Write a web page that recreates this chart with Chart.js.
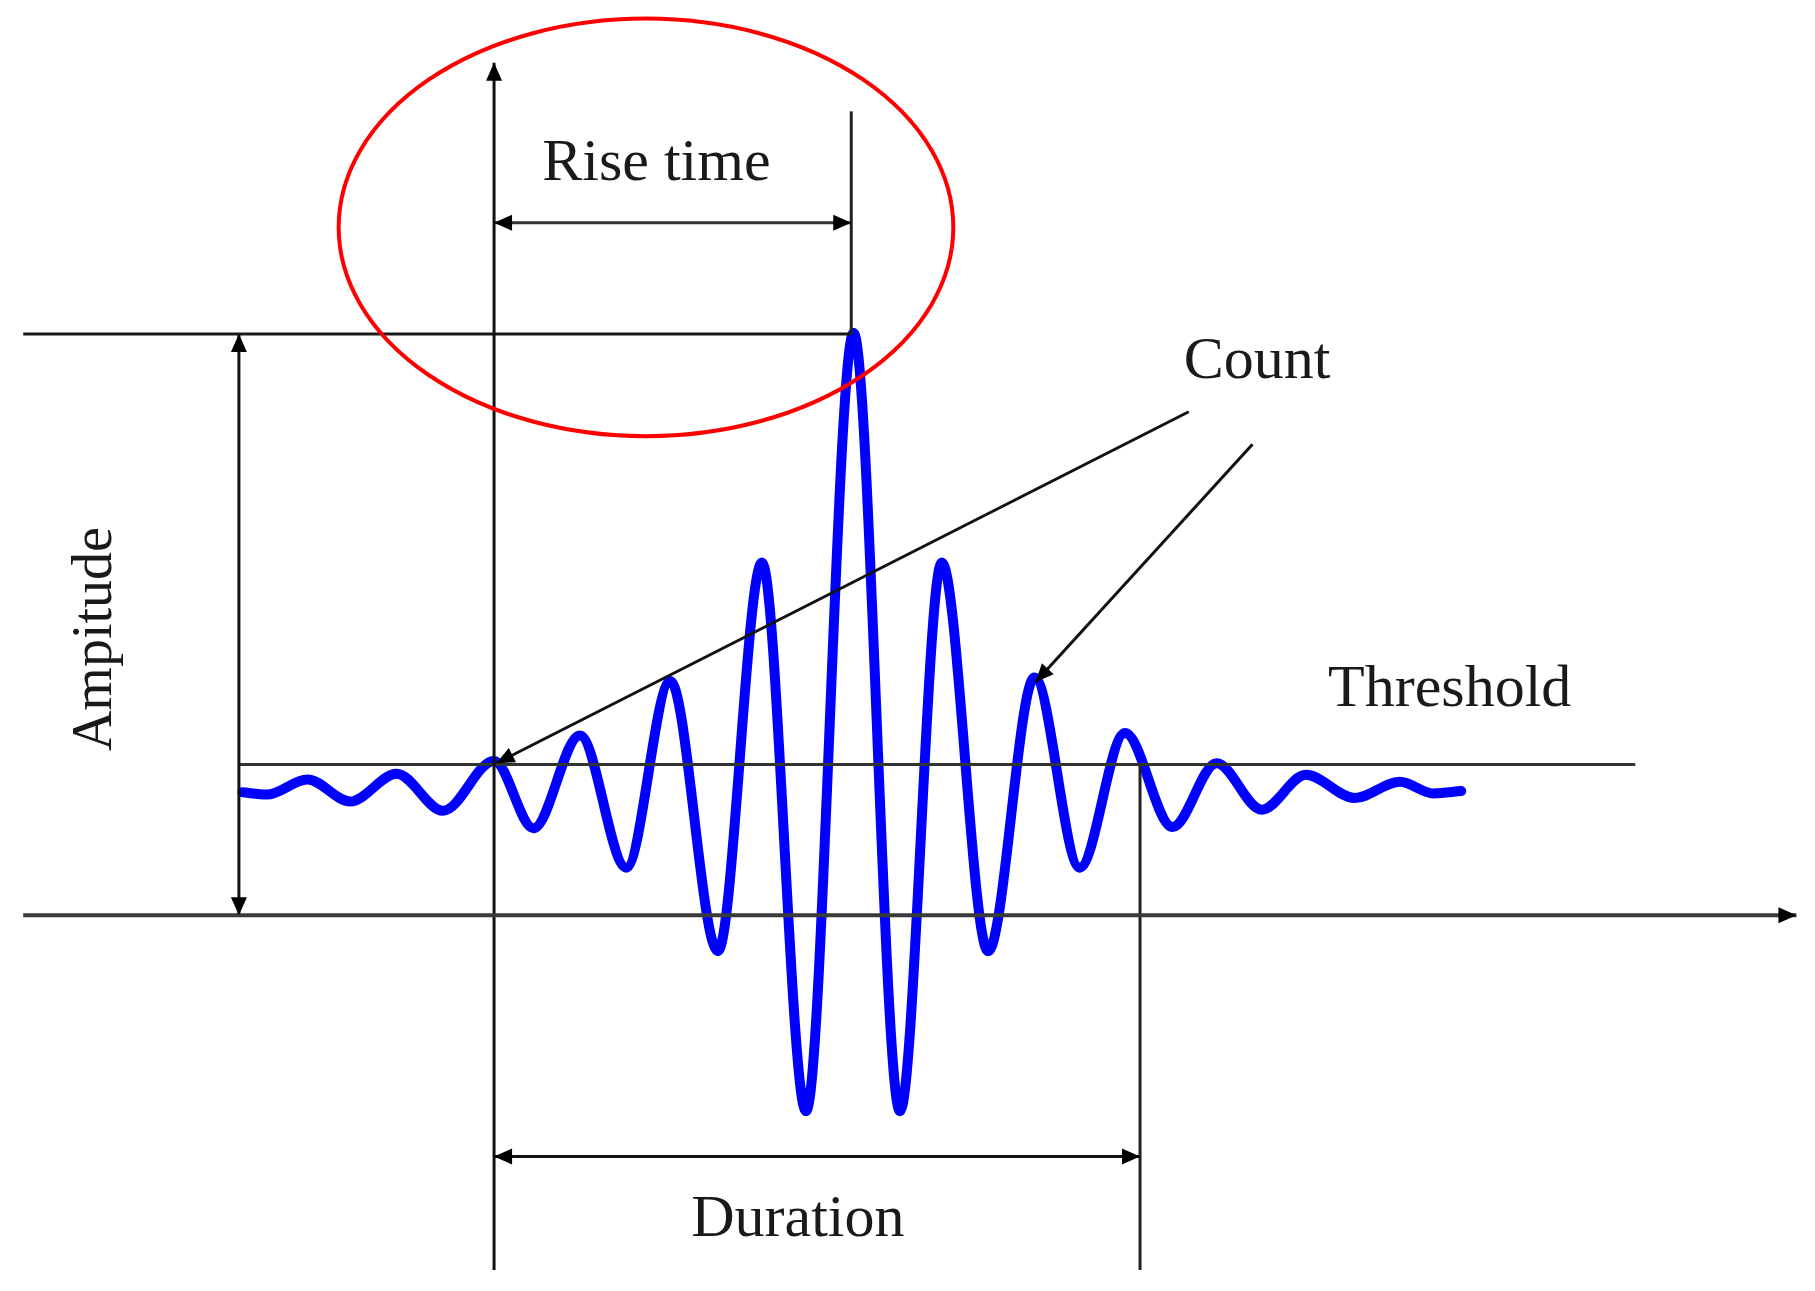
<!DOCTYPE html>
<html>
<head>
<meta charset="utf-8">
<script src="https://cdn.jsdelivr.net/npm/chart.js@4.4.1/dist/chart.umd.min.js"></script>
<style>
html,body{margin:0;padding:0;background:#fff;}
#wrap{width:1815px;height:1291px;position:relative;}
</style>
</head>
<body>
<div id="wrap"><canvas id="c"></canvas></div>
<script>
// ---- Data (time units / amplitude units) ----
const waveTime = [-217,-196,-161,-124,-84,-44,0,34,74,114,152,193,231,269,310,350,386,426,466,505,544,585,623,662,700,742,781,810,834];
const waveAmp  = [106,104,117,98,122,90,133,75,155,41,202,-31,304,-169,502,-169,304,-31,205,41,157,76,131,91,121,101,115,105,107];

const thresholdLevel = 130;
const peakAmplitude  = 501;
const riseTime       = 308;
const durationEnd    = 557;
const timeRange = [-426, 1139];
const ampRange  = [-324, 789];

// axis extents
const timeAxisSpan = [-406, 1123];
const ampAxisSpan  = [-306, 735];
const riseMarkerTop = 693;
const riseArrowLevel = 597;
const ampArrowTime = -220;
const thresholdSpan = [-219, 984];
const durationArrowLevel = -208;
const countLead1 = [599, 434, 2, 131];
const countLead2 = [654, 406, 467, 201];

// labels
const labelText = ['Rise time', 'Count', 'Threshold', 'Ampitude', 'Duration'];
const labelTime = [140, 658, 824, -330, 262];
const labelAmp  = [634, 463, 180, 238, -277];
const labelRot  = [0, 0, 0, -90, 0];

// highlight ellipse (centre and radii in data units)
const ellipseCentre = [131, 593];
const ellipseRadii  = [265, 180];

// ---- Guide segments built from the named values ----
// [t1, a1, t2, a2, arrowMode, colour, width]
const guides = [
  [timeAxisSpan[0], 0, timeAxisSpan[1], 0, 'end', '#3a3a3a', 4],
  [0, ampAxisSpan[0], 0, ampAxisSpan[1], 'end', '#111', 3],
  [timeAxisSpan[0], peakAmplitude, riseTime, peakAmplitude, 'none', '#1a1a1a', 3],
  [riseTime, peakAmplitude, riseTime, riseMarkerTop, 'none', '#222', 3],
  [0, riseArrowLevel, riseTime, riseArrowLevel, 'both', '#333', 3],
  [ampArrowTime, 0, ampArrowTime, peakAmplitude, 'both', '#111', 3],
  [thresholdSpan[0], thresholdLevel, thresholdSpan[1], thresholdLevel, 'none', '#333', 3],
  [durationEnd, thresholdLevel, durationEnd, ampAxisSpan[0], 'none', '#222', 3],
  [0, durationArrowLevel, durationEnd, durationArrowLevel, 'both', '#111', 3],
  [countLead1[0], countLead1[1], countLead1[2], countLead1[3], 'end', '#111', 3],
  [countLead2[0], countLead2[1], countLead2[2], countLead2[3], 'end', '#111', 3]
];

const datasets = guides.map(g => ({
  data: [{x: g[0], y: g[1]}, {x: g[2], y: g[3]}],
  showLine: true, borderColor: g[5], borderWidth: g[6], pointRadius: 0,
  tension: 0, arrows: g[4], clip: false
}));
datasets.push({
  data: waveTime.map((t, i) => ({x: t, y: waveAmp[i]})),
  showLine: true, borderColor: '#0000ff', borderWidth: 10, pointRadius: 0,
  cubicInterpolationMode: 'monotone', borderCapStyle: 'round', borderJoinStyle: 'round', clip: false
});

function drawHead(ctx, x1, y1, x2, y2, color) {
  const ang = Math.atan2(y2 - y1, x2 - x1);
  const L = 18, W = 8;
  ctx.save();
  ctx.translate(x2, y2);
  ctx.rotate(ang);
  ctx.fillStyle = color;
  ctx.beginPath();
  ctx.moveTo(0, 0);
  ctx.lineTo(-L, -W);
  ctx.lineTo(-L, W);
  ctx.closePath();
  ctx.fill();
  ctx.restore();
}

const overlay = {
  id: 'overlay',
  afterDatasetsDraw(chart) {
    const ctx = chart.ctx, xs = chart.scales.x, ys = chart.scales.y;
    // arrowheads
    chart.data.datasets.forEach(ds => {
      if (!ds.arrows || ds.arrows === 'none') return;
      const p = ds.data.map(d => [xs.getPixelForValue(d.x), ys.getPixelForValue(d.y)]);
      drawHead(ctx, p[0][0], p[0][1], p[1][0], p[1][1], '#000');
      if (ds.arrows === 'both') drawHead(ctx, p[1][0], p[1][1], p[0][0], p[0][1], '#000');
    });
    // ellipse
    const cx = xs.getPixelForValue(ellipseCentre[0]);
    const cy = ys.getPixelForValue(ellipseCentre[1]);
    const rx = Math.abs(xs.getPixelForValue(ellipseCentre[0] + ellipseRadii[0]) - cx);
    const ry = Math.abs(ys.getPixelForValue(ellipseCentre[1] + ellipseRadii[1]) - cy);
    ctx.save();
    ctx.strokeStyle = '#ff0000';
    ctx.lineWidth = 4;
    ctx.beginPath();
    ctx.ellipse(cx, cy, rx, ry, 0, 0, Math.PI * 2);
    ctx.stroke();
    ctx.restore();
    // labels
    labelText.forEach((txt, i) => {
      const x = xs.getPixelForValue(labelTime[i]);
      const y = ys.getPixelForValue(labelAmp[i]);
      ctx.save();
      ctx.fillStyle = '#1a1a1a';
      ctx.font = (labelRot[i] ? '56px' : '60px') + ' "Liberation Serif", "DejaVu Serif", serif';
      ctx.textAlign = 'center';
      ctx.textBaseline = 'alphabetic';
      ctx.translate(x, y);
      if (labelRot[i]) ctx.rotate(labelRot[i] * Math.PI / 180);
      ctx.fillText(txt, 0, 0);
      ctx.restore();
    });
  }
};

new Chart(document.getElementById('c'), {
  type: 'scatter',
  data: { datasets },
  options: {
    responsive: true,
    maintainAspectRatio: false,
    animation: false,
    devicePixelRatio: 1,
    layout: { padding: 0 },
    scales: {
      x: { type: 'linear', min: timeRange[0], max: timeRange[1], display: false },
      y: { type: 'linear', min: ampRange[0], max: ampRange[1], display: false }
    },
    plugins: { legend: { display: false }, tooltip: { enabled: false } },
    events: []
  },
  plugins: [overlay]
});
</script>
</body>
</html>
